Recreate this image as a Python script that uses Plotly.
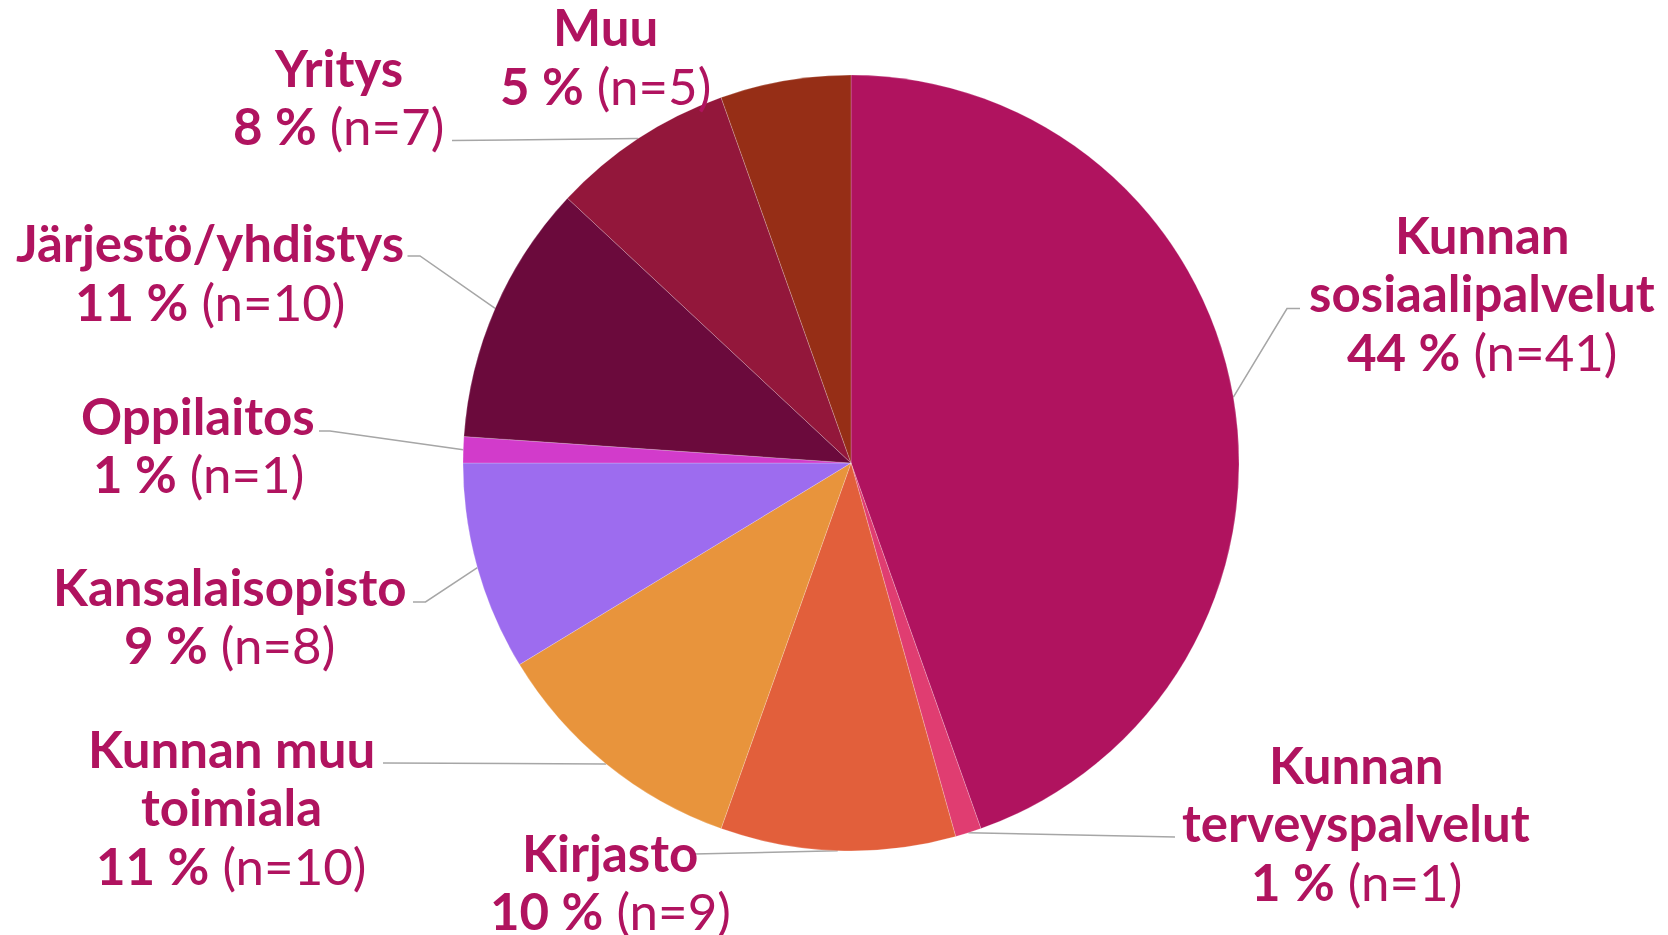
import math
import plotly.graph_objects as go

# ---------------- data ----------------
categories = ["Kunnan sosiaalipalvelut", "Kunnan terveyspalvelut", "Kirjasto",
              "Kunnan muu toimiala", "Kansalaisopisto", "Oppilaitos",
              "Järjestö/yhdistys", "Yritys", "Muu"]
counts = [41, 1, 9, 10, 8, 1, 10, 7, 5]
percent_labels = ["44 %", "1 %", "10 %", "11 %", "9 %", "1 %", "11 %", "8 %", "5 %"]
name_lines = [["Kunnan", "sosiaalipalvelut"], ["Kunnan", "terveyspalvelut"], ["Kirjasto"],
              ["Kunnan muu", "toimiala"], ["Kansalaisopisto"], ["Oppilaitos"],
              ["Järjestö/yhdistys"], ["Yritys"], ["Muu"]]

# ---------------- style ----------------
colors = ["#B0135F", "#E03D71", "#E25F3B", "#E8943C", "#9D6CEF",
          "#D23BCB", "#6B0A3C", "#93173B", "#962E16"]
text_color = "#B0135F"
line_color = "#A6A6A6"
W, H = 1668, 935
CX, CY, R = 851, 463, 388          # pie centre / radius in pixels
FONT = "Lato"
FSIZE = 51
LINE_STEP = 58.5

# label layout: centre x, y of first line, leader points on the label side (pixels)
label_pos = [
    (1482, 234, [(1300, 308.5), (1287, 308.5)]),
    (1356, 764, [(1175, 837)]),
    (610, 852, [(694, 854)]),
    (231, 748, [(383, 763)]),
    (229, 586, [(413, 602), (425.5, 602)]),
    (198, 415, [(319, 431), (330, 431)]),
    (210, 242.5, [(407.5, 256), (420, 256)]),
    (338, 67, [(452, 140.5)]),
    (605, 26.6, []),
]

fig = go.Figure()

fig.add_trace(go.Pie(
    labels=categories, values=counts, sort=False, direction="clockwise", rotation=0,
    marker=dict(colors=colors, line=dict(color="rgba(255,255,255,0.35)", width=0.6)),
    textinfo="none", hoverinfo="label+value+percent", showlegend=False,
    domain=dict(x=[(CX - R) / W, (CX + R) / W], y=[1 - (CY + R) / H, 1 - (CY - R) / H]),
))

total = sum(counts)
cum = 0
annotations = []
for i, n in enumerate(counts):
    mid = (cum + n / 2) / total * 2 * math.pi
    cum += n
    ex, ey = CX + R * math.sin(mid), CY - R * math.cos(mid)
    cx, y0, pts = label_pos[i]
    if pts:
        xs = [p[0] for p in pts] + [ex]
        ys = [p[1] for p in pts] + [ey]
        fig.add_trace(go.Scatter(x=xs, y=ys, mode="lines", hoverinfo="skip", showlegend=False,
                                 line=dict(color=line_color, width=1.5)))
    lines = ["<b>%s</b>" % s for s in name_lines[i]]
    lines.append("<b>%s</b> (n=%d)" % (percent_labels[i], n))
    for k, t in enumerate(lines):
        annotations.append(dict(x=cx, y=y0 + k * LINE_STEP, xref="x", yref="y", text=t,
                                showarrow=False, xanchor="center", yanchor="middle",
                                font=dict(family=FONT, size=FSIZE, color=text_color)))

fig.update_layout(
    width=W, height=H, margin=dict(l=0, r=0, t=0, b=0),
    paper_bgcolor="white", plot_bgcolor="rgba(0,0,0,0)",
    xaxis=dict(range=[0, W], visible=False, domain=[0, 1], fixedrange=True),
    yaxis=dict(range=[H, 0], visible=False, domain=[0, 1], fixedrange=True),
    annotations=annotations,
)

fig.write_html("out.html", config={"displayModeBar": False},
               post_script="document.body.style.margin='0';document.body.style.overflow='hidden';")
